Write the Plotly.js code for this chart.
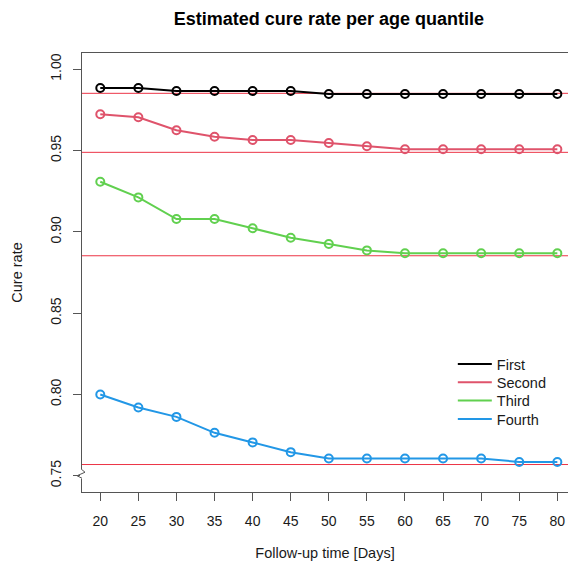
<!DOCTYPE html>
<html>
<head>
<meta charset="utf-8">
<script src="https://cdn.plot.ly/plotly-3.0.1.min.js"></script>
<style>
  html, body { margin: 0; padding: 0; background: #ffffff; overflow: hidden; }
  #chart { width: 568px; height: 572px; }
</style>
</head>
<body>
<div id="chart"></div>
<script>
// ---- Data ----
const days = [20, 25, 30, 35, 40, 45, 50, 55, 60, 65, 70, 75, 80];
const seriesNames = ["First", "Second", "Third", "Fourth"];
const firstQ  = [0.9885, 0.9885, 0.9866, 0.9866, 0.9866, 0.9866, 0.9848, 0.9848, 0.9848, 0.9848, 0.9848, 0.9848, 0.9848];
const secondQ = [0.9723, 0.9705, 0.9625, 0.9585, 0.9565, 0.9565, 0.9546, 0.9526, 0.9508, 0.9508, 0.9508, 0.9508, 0.9508];
const thirdQ  = [0.9308, 0.9212, 0.9079, 0.9079, 0.9022, 0.8964, 0.8925, 0.8886, 0.8868, 0.8868, 0.8868, 0.8868, 0.8868];
const fourthQ = [0.8000, 0.7920, 0.7862, 0.7764, 0.7705, 0.7645, 0.7606, 0.7606, 0.7606, 0.7606, 0.7606, 0.7585, 0.7585];
const referenceRates = [0.9852, 0.9489, 0.8853, 0.7569];
const yTickVals = [0.75, 0.80, 0.85, 0.90, 0.95, 1.00];
const yTickText = ["0.75", "0.80", "0.85", "0.90", "0.95", "1.00"];
const xTickText = ["20", "25", "30", "35", "40", "45", "50", "55", "60", "65", "70", "75", "80"];

// ---- Styles ----
const colors = ["#000000", "#DF536B", "#61D04F", "#2297E6"];
const refLineColor = "#EC3446";
const axisColor = "#555555";
const textColor = "#1a1a1a";
const fontFamily = "Liberation Sans, Arial, Helvetica, sans-serif";

// legend rows (one small legend per series so the row spacing matches)
const legendIds = ["legend", "legend2", "legend3", "legend4"];
const legendRowY = [0.2916, 0.2499, 0.2082, 0.1663];

const allSeries = [firstQ, secondQ, thirdQ, fourthQ];
const traces = allSeries.map((vals, i) => ({
  x: days,
  y: vals,
  name: seriesNames[i],
  showlegend: false,
  type: "scatter",
  mode: "lines+markers",
  line: { color: colors[i], width: 2 },
  marker: { symbol: "circle-open", size: 8, color: colors[i], line: { color: colors[i], width: 2 } },
  cliponaxis: false
}));
// legend entries show only the line sample (as in the reference)
const legendTraces = seriesNames.map((name, i) => ({
  x: [null],
  y: [null],
  name: name,
  legend: legendIds[i],
  showlegend: true,
  type: "scatter",
  mode: "lines",
  line: { color: colors[i], width: 2 },
  hoverinfo: "skip"
}));

const shapes = referenceRates.map(v => ({
  type: "line", xref: "paper", x0: 0, x1: 1, yref: "y", y0: v, y1: v,
  line: { color: refLineColor, width: 1 }, layer: "below"
}));

// axis break (zigzag) on the y axis near its bottom
shapes.push({
  type: "path", xref: "paper", yref: "y",
  xsizemode: "pixel", ysizemode: "pixel",
  xanchor: 0, yanchor: yTickVals[0],
  path: "M-2,6 L2,6 L2,-3 L-2,-3 Z",
  fillcolor: "#ffffff", line: { width: 0 }, layer: "above"
});
shapes.push({
  type: "path", xref: "paper", yref: "y",
  xsizemode: "pixel", ysizemode: "pixel",
  xanchor: 0, yanchor: yTickVals[0],
  path: "M0,6 L3,3.5 L-5,0 L0,-2.5",
  line: { color: axisColor, width: 1 }, layer: "above"
});

const legendBase = {
  x: 0.763, xanchor: "left", yanchor: "middle",
  bgcolor: "rgba(0,0,0,0)",
  borderwidth: 0,
  itemwidth: 34,
  font: { family: fontFamily, size: 14.5, color: textColor }
};

const layout = {
  width: 568,
  height: 572,
  margin: { l: 82, r: 0, t: 53, b: 80 },
  paper_bgcolor: "#ffffff",
  plot_bgcolor: "#ffffff",
  font: { family: fontFamily, size: 14, color: textColor },
  title: {
    text: "<b>Estimated cure rate per age quantile</b>",
    font: { family: fontFamily, size: 18, color: "#000000" },
    xref: "paper", x: 0.508, xanchor: "center",
    yref: "container", y: 1 - 19 / 572, yanchor: "middle"
  },
  xaxis: {
    range: [17.6, 81.4],
    tickmode: "array",
    tickvals: days,
    ticktext: xTickText,
    ticks: "outside",
    ticklen: 8,
    tickwidth: 1,
    tickcolor: axisColor,
    showline: true,
    linecolor: axisColor,
    linewidth: 1,
    mirror: true,
    showgrid: false,
    zeroline: false,
    ticklabelstandoff: 8,
    tickfont: { size: 14, color: textColor },
    title: { text: "Follow-up time [Days]", font: { size: 14.5, color: textColor }, standoff: 20 }
  },
  yaxis: {
    range: [0.74, 1.01],
    tickmode: "array",
    tickvals: yTickVals,
    ticktext: yTickText,
    tickangle: -90,
    ticks: "outside",
    ticklen: 8,
    tickwidth: 1,
    tickcolor: axisColor,
    showline: true,
    linecolor: axisColor,
    linewidth: 1,
    mirror: false,
    showgrid: false,
    zeroline: false,
    ticklabelstandoff: 6,
    tickfont: { size: 14, color: textColor },
    title: { text: "Cure rate", font: { size: 14.5, color: textColor }, standoff: 22 }
  },
  shapes: shapes,
  showlegend: true
};
legendIds.forEach((id, i) => {
  layout[id] = Object.assign({}, legendBase, { y: legendRowY[i] });
});

Plotly.newPlot("chart", traces.concat(legendTraces), layout, { displayModeBar: false, staticPlot: true });
</script>
</body>
</html>
